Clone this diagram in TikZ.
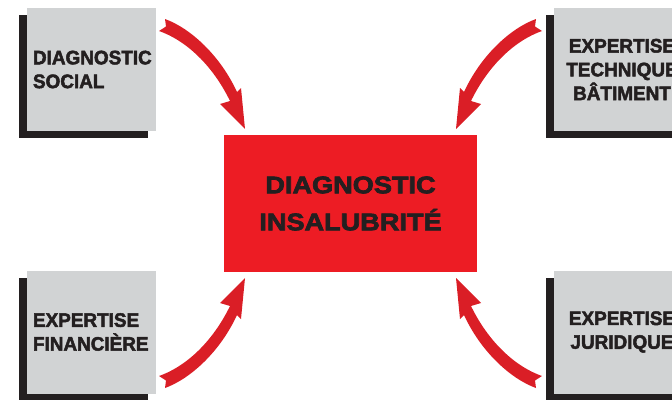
\documentclass[tikz,border=0pt]{standalone}
\usepackage{fontspec}
\usetikzlibrary{shadows}
\newfontfamily\boxfont{Liberation Sans}[FakeStretch=0.97,FakeBold=2.5]
\newfontfamily\bigfont{Liberation Sans}[FakeStretch=1.13,FakeBold=3]
\definecolor{boxgray}{RGB}{209,211,212}
\definecolor{inkblack}{RGB}{35,31,32}
\definecolor{boxred}{RGB}{237,28,36}
\definecolor{arrowred}{RGB}{218,30,38}
\begin{document}
\begin{tikzpicture}[x=1pt,y=-1pt,
  sidebox/.style={fill=boxgray, minimum height=123pt, inner ysep=0pt, text=inkblack,
     font={\boxfont\bfseries\fontsize{19.5}{23.8}\selectfont},
     drop shadow={shadow xshift=-8pt, shadow yshift=-7pt, fill=inkblack, opacity=1}},
  leftbox/.style={sidebox, text width=117pt, inner xsep=6pt, align=left},
  rightbox/.style={sidebox, text width=136pt, inner xsep=0pt, align=center},
  centerbox/.style={fill=boxred, minimum width=253pt, minimum height=137pt, inner sep=0pt,
     text=inkblack, align=center, font={\bigfont\bfseries\fontsize{24}{37}\selectfont}},
  swoosh/.style={fill=arrowred}
]
\clip (0,0) rectangle (672,399);
\node[centerbox] (core) at (350.5,203.5) {DIAGNOSTIC\\INSALUBRITÉ};
\node[leftbox] (social) at (91.5,69.5) {DIAGNOSTIC\\SOCIAL};
\node[rightbox] (tech) at (622,69.5) {EXPERTISE\\TECHNIQUE\\BÂTIMENT};
\node[leftbox] (fin) at (91.5,332) {EXPERTISE\\FINANCIÈRE};
\node[rightbox] (jur) at (622,332) {EXPERTISE\\JURIDIQUE};
\begin{scope}[shift={(core.center)}]
  \foreach \sx/\sy in {1/1,-1/1,1/-1,-1/-1} {
    \begin{scope}[xscale=\sx, yscale=\sy]
      \fill[swoosh] (-185.5,-184.5) .. controls (-160.5,-175.5) and (-130.5,-148.5) .. (-113.5,-111.5)
        -- (-109.5,-115.5) -- (-105.5,-74.5) -- (-130.5,-99.5) -- (-120.5,-102.5)
        .. controls (-135.5,-133.5) and (-160.5,-161.5) .. (-191.5,-172.5)
        -- (-184.5,-177) -- cycle;
    \end{scope}
  }
\end{scope}
\end{tikzpicture}
\end{document}
